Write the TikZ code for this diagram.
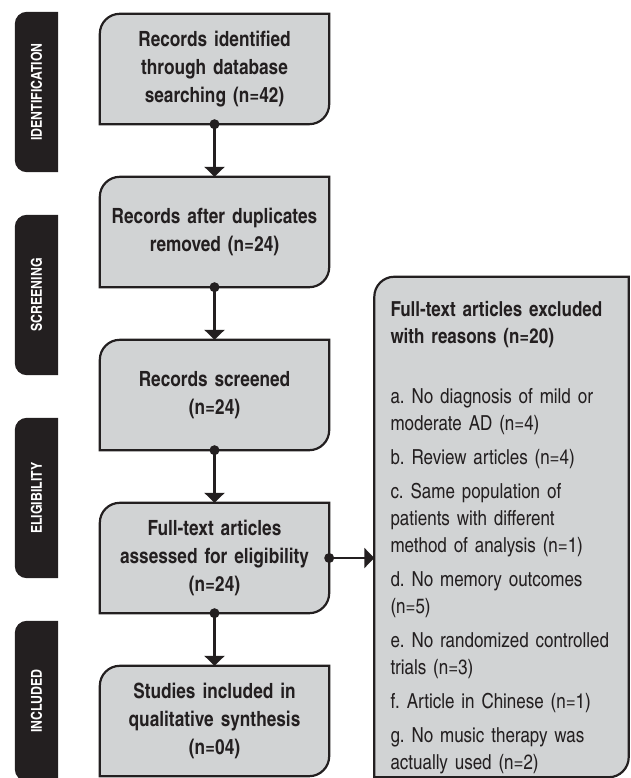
\documentclass[tikz,border=0pt]{standalone}
\usepackage{fontspec}
\setmainfont{texgyreheroscn}[Extension=.otf, UprightFont=*-regular, BoldFont=*-bold]
\usetikzlibrary{arrows.meta,backgrounds}
\definecolor{boxgray}{HTML}{D1D3D4}
\definecolor{ink}{HTML}{231F20}
\frenchspacing
\begin{document}
\begin{tikzpicture}[x=1pt,y=1pt]
\tikzstyle{arrow} = [line width = 2.2pt, color = ink, -{Triangle[width = 20pt, length = 10pt]}] % standard arrow
\tikzstyle{block} = [rectangle, minimum width = 229pt, minimum height = 110pt, text width = 215pt, align = center, text = ink, font = \fontsize{21}{28}\selectfont\bfseries] % main block
\tikzstyle{excluded} = [rectangle, minimum width = 251pt, minimum height = 500pt, text width = 222pt, inner xsep = 16pt, align = left, text = ink, font = \fontsize{20.7}{27}\selectfont] % side block with reasons
\tikzstyle{tab} = [rectangle, minimum width = 43pt, minimum height = 160pt, inner sep = 0pt, text = white, font = \fontsize{15}{16}\selectfont\bfseries] % stage tab on the left
\tikzstyle{dot} = [shape = circle, inner sep = 0pt, minimum size = 10pt, fill = ink] % dot where a line leaves a block
\tikzstyle{outline} = [line width = 2.2pt, draw = ink, fill = boxgray] % block outline, two round corners
\useasboundingbox (0,0) rectangle (630,-778); % page size of the reference
% main column
\node(ident)[block] at (214.5,-69){Records identified\\through database\\searching (n=42)};
\node(dup)[block, below of = ident, node distance = 163pt]{Records after duplicates\\removed (n=24)};
\node(screen)[block, below of = dup, node distance = 163pt]{Records screened\\(n=24)};
\node(full)[block, below of = screen, node distance = 163pt]{Full-text articles\\assessed for eligibility\\(n=24)};
\node(incl)[block, below of = full, node distance = 163pt]{Studies included in\\qualitative synthesis\\(n=04)};
% excluded articles
\node(excl)[excluded] at (501.5,-527){\rule{0pt}{36pt}\textbf{Full-text articles excluded}\\\textbf{with reasons (n=20)}\\[33pt]
a. No diagnosis of mild or\\moderate AD (n=4)\\[7pt]
b. Review articles (n=4)\\[7pt]
c. Same population of\\patients with different\\method of analysis (n=1)\\[7pt]
d. No memory outcomes\\(n=5)\\[7pt]
e. No randomized controlled\\trials (n=3)\\[7pt]
f. Article in Chinese (n=1)\\[7pt]
g. No music therapy was\\actually used (n=2)};
% stage tabs
\node(tabident)[tab] at (36.5,-92){\rotatebox{90}{IDENTIFICATION}};
\node(tabscreen)[tab, below of = tabident, node distance = 203pt]{\rotatebox{90}{SCREENING}};
\node(tabelig)[tab, below of = tabscreen, node distance = 203pt]{\rotatebox{90}{ELIGIBILITY}};
\node(tabincl)[tab, below of = tabelig, node distance = 203pt]{\rotatebox{90}{INCLUDED}};
% shapes behind the text
\begin{scope}[on background layer]
\foreach \n in {ident,dup,screen,full,incl,excl}
  \draw[outline](\n.south west)--([yshift=-20pt]\n.north west)arc[start angle=180, end angle=90, radius=20pt]--(\n.north east)--([yshift=20pt]\n.south east)arc[start angle=0, end angle=-90, radius=20pt]--cycle;
\foreach \n in {tabident,tabscreen,tabelig,tabincl}
  \fill[ink](\n.north east)--([xshift=12pt]\n.north west)arc[start angle=90, end angle=180, radius=12pt]--([yshift=12pt]\n.south west)arc[start angle=180, end angle=270, radius=12pt]--(\n.south east)--cycle;
\end{scope}
% connectors
\draw[arrow](ident.south)node[dot]{}--(dup.north);
\draw[arrow](dup.south)node[dot]{}--(screen.north);
\draw[arrow](screen.south)node[dot]{}--(full.north);
\draw[arrow](full.south)node[dot]{}--(incl.north);
\draw[arrow](full.east)node[dot]{}--(full.east -| excl.west);
\end{tikzpicture}
\end{document}
